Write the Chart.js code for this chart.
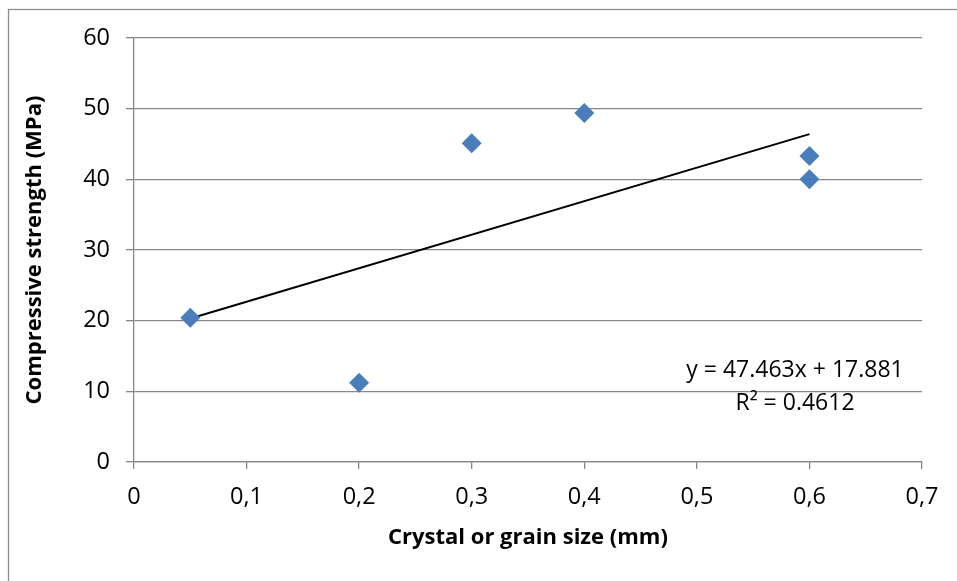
<!DOCTYPE html>
<html>
<head>
<meta charset="utf-8">
<script src="https://cdn.jsdelivr.net/npm/chart.js@4.4.1/dist/chart.umd.min.js"></script>
<style>
  html, body { margin: 0; padding: 0; background: #ffffff; }
  #wrap { width: 957px; height: 581px; position: relative; }
</style>
</head>
<body>
<div id="wrap"><canvas id="c" width="957" height="581"></canvas></div>
<script>
// ---- data ----
const grainSize = [0.05, 0.2, 0.3, 0.4, 0.6, 0.6];          // mm
const strength  = [20.4, 11.2, 45.1, 49.4, 43.3, 40.0];     // MPa
const trendX = [0.05, 0.6];
const trendY = [20.3, 46.4];
const equationText = 'y = 47.463x + 17.881';
const r2Text = 'R\u00B2 = 0.4612';
const xTitle = 'Crystal or grain size (mm)';
const yTitle = 'Compressive strength (MPa)';

const FONT = '"Open Sans", "Noto Sans", sans-serif';
const GRID = '#878787';

const frame = {
  id: 'frame',
  beforeDraw(chart) {
    const ctx = chart.ctx;
    ctx.save();
    ctx.fillStyle = '#ffffff';
    ctx.fillRect(0, 0, chart.width, chart.height);
    ctx.strokeStyle = '#8c8c8c';
    ctx.lineWidth = 1.3;
    ctx.strokeRect(8.5, 9.5, 2000, 2000);
    ctx.restore();
  },
  afterDraw(chart) {
    const ctx = chart.ctx;
    const a = chart.chartArea;
    ctx.save();
    ctx.fillStyle = '#000000';
    ctx.font = '23px ' + FONT;
    ctx.textAlign = 'center';
    ctx.textBaseline = 'alphabetic';
    const cx = a.right - 127;
    ctx.fillText(equationText, cx, a.top + 339);
    ctx.fillText(r2Text, cx, a.top + 372);
    ctx.restore();
  }
};

new Chart(document.getElementById('c'), {
  type: 'scatter',
  data: {
    datasets: [
      {
        label: 'Data',
        data: grainSize.map((x, i) => ({ x: x, y: strength[i] })),
        pointStyle: 'rectRot',
        pointRadius: 10,
        pointHoverRadius: 10,
        backgroundColor: '#4a7ebb',
        borderColor: '#4a7ebb',
        borderWidth: 0,
        showLine: false,
        order: 1
      },
      {
        label: 'Trend',
        data: trendX.map((x, i) => ({ x: x, y: trendY[i] })),
        showLine: true,
        borderColor: '#000000',
        borderWidth: 2,
        pointRadius: 0,
        fill: false,
        order: 2
      }
    ]
  },
  options: {
    responsive: false,
    animation: false,
    devicePixelRatio: 1,
    layout: { padding: { top: 38, right: 35, left: 0, bottom: 0 } },
    plugins: { legend: { display: false }, tooltip: { enabled: false } },
    scales: {
      x: {
        type: 'linear',
        min: 0, max: 0.7,
        afterFit(s) { s.height = 119; },
        ticks: {
          stepSize: 0.1,
          color: '#000000',
          padding: 14,
          font: { family: FONT, size: 23.5 },
          callback: v => (Math.abs(v) < 1e-9 ? '0' : (Math.round(v * 10) / 10).toFixed(1).replace('.', ','))
        },
        grid: { drawOnChartArea: false, drawTicks: true, tickLength: 7, color: GRID, lineWidth: 1.3 },
        border: { display: true, color: GRID, width: 1.3 },
        title: {
          display: true, text: xTitle, color: '#000000',
          font: { family: FONT, size: 22, weight: 'bold' },
          padding: { top: 0, bottom: 30 }
        }
      },
      y: {
        type: 'linear',
        min: 0, max: 60,
        afterFit(s) { s.width = 134; },
        ticks: {
          stepSize: 10,
          color: '#000000',
          padding: 16,
          font: { family: FONT, size: 23.5 }
        },
        grid: { drawOnChartArea: true, drawTicks: true, tickLength: 8, color: GRID, lineWidth: 1.3 },
        border: { display: true, color: GRID, width: 1.3 },
        title: {
          display: true, text: yTitle, color: '#000000',
          font: { family: FONT, size: 22, weight: 'bold' },
          padding: { top: 22, bottom: 0 }
        }
      }
    }
  },
  plugins: [frame]
});
</script>
</body>
</html>
